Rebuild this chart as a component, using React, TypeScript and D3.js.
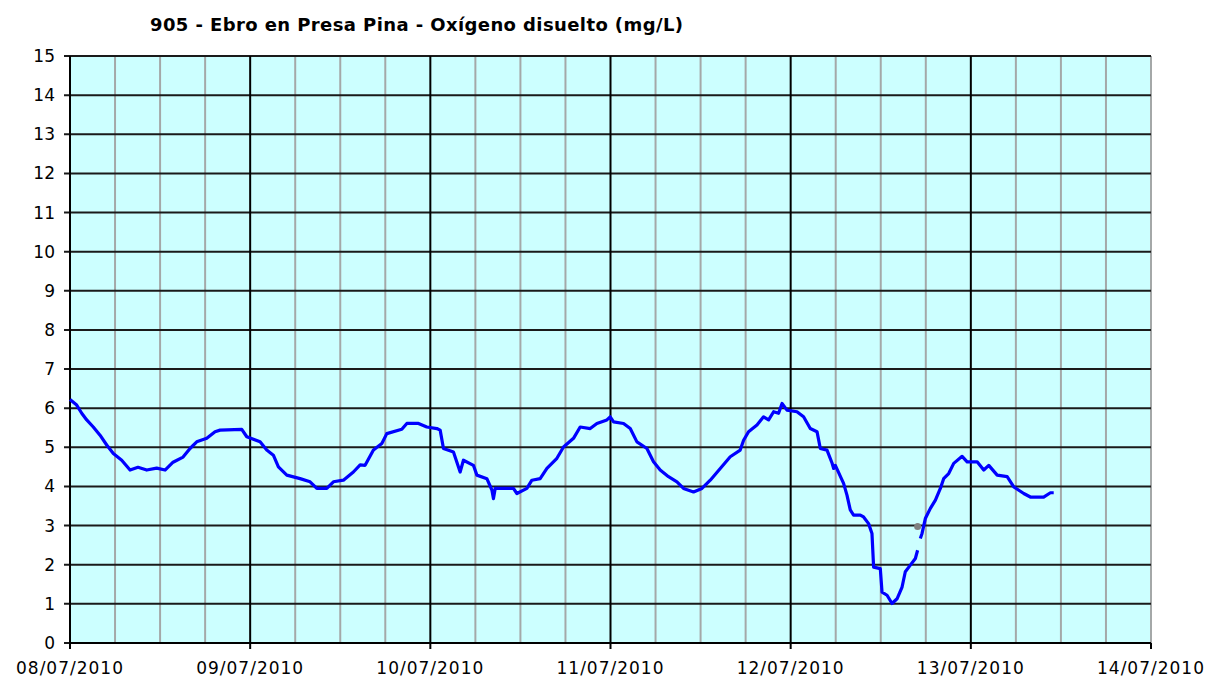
import React from "react";
import * as d3 from "d3";

const title = "905 - Ebro en Presa Pina - Oxígeno disuelto (mg/L)";
const dayLabels = ["08/07/2010", "09/07/2010", "10/07/2010", "11/07/2010", "12/07/2010", "13/07/2010", "14/07/2010"];
const yTicks = d3.range(0, 16);

// hours since 08/07/2010 00:00
const hours1 = [0.0, 0.89, 1.56, 2.23, 3.1, 4.0, 4.89, 5.77, 6.89, 8.0, 9.06, 10.22, 11.55, 12.66, 13.73, 15.06, 15.99, 16.88, 18.22, 19.32, 19.99, 22.88, 23.55, 25.32, 26.21, 27.09, 27.76, 28.88, 30.65, 31.98, 32.88, 34.21, 35.09, 36.42, 37.75, 38.65, 39.31, 40.42, 41.54, 42.2, 44.2, 44.87, 46.42, 47.53, 48.87, 49.31, 49.75, 51.08, 51.75, 51.97, 52.41, 53.74, 54.2, 55.53, 56.2, 56.41, 56.64, 59.07, 59.53, 60.86, 61.53, 62.63, 63.53, 64.86, 65.74, 67.07, 67.96, 69.3, 70.19, 71.52, 71.96, 72.41, 73.74, 74.63, 75.52, 76.85, 77.73, 78.62, 79.73, 80.85, 81.73, 83.06, 84.18, 85.29, 86.62, 87.95, 89.28, 89.73, 90.39, 91.51, 92.39, 93.06, 93.73, 94.39, 94.85, 95.51, 96.84, 97.72, 98.61, 99.51, 99.95, 100.84, 101.51, 101.73, 101.95, 103.05, 103.5, 103.94, 104.38, 105.27, 105.71, 106.38, 106.83, 107.05, 107.94, 108.17, 108.84, 109.5, 110.17, 110.84, 111.27, 111.94, 112.61, 112.91];
const oxygen1 = [6.22, 6.08, 5.87, 5.7, 5.52, 5.31, 5.06, 4.84, 4.67, 4.42, 4.49, 4.42, 4.47, 4.42, 4.62, 4.75, 4.97, 5.14, 5.23, 5.4, 5.44, 5.46, 5.27, 5.14, 4.93, 4.8, 4.5, 4.29, 4.2, 4.12, 3.95, 3.95, 4.12, 4.16, 4.37, 4.55, 4.54, 4.93, 5.1, 5.35, 5.46, 5.61, 5.61, 5.52, 5.48, 5.44, 4.97, 4.88, 4.5, 4.37, 4.67, 4.54, 4.29, 4.2, 3.91, 3.69, 3.95, 3.95, 3.82, 3.95, 4.16, 4.2, 4.46, 4.72, 5.01, 5.23, 5.52, 5.48, 5.61, 5.7, 5.78, 5.65, 5.61, 5.48, 5.14, 4.97, 4.63, 4.42, 4.25, 4.12, 3.95, 3.86, 3.95, 4.16, 4.46, 4.76, 4.93, 5.18, 5.4, 5.57, 5.78, 5.7, 5.91, 5.87, 6.12, 5.95, 5.91, 5.78, 5.48, 5.4, 4.97, 4.93, 4.6, 4.46, 4.54, 4.08, 3.78, 3.4, 3.27, 3.27, 3.22, 3.05, 2.8, 1.94, 1.9, 1.3, 1.22, 1.01, 1.13, 1.43, 1.82, 1.99, 2.16, 2.37];
const hours2 = [113.27, 113.5, 113.94, 114.61, 115.28, 115.94, 116.38, 117.05, 117.72, 118.84, 119.51, 120.84, 121.72, 122.39, 123.51, 124.84, 125.72, 127.05, 127.93, 129.7, 130.6, 131.04];
const oxygen2 = [2.67, 2.8, 3.18, 3.44, 3.65, 3.95, 4.2, 4.33, 4.59, 4.77, 4.63, 4.63, 4.42, 4.54, 4.29, 4.25, 3.99, 3.82, 3.73, 3.73, 3.84, 3.84];
const markerHours = [112.91];
const markerValues = [2.98];

const W = 1209;
const H = 677;
const left = 70, right = 1151, top = 56, bottom = 643;
const start = new Date(2010, 6, 8);
const end = new Date(2010, 6, 14);
const toDate = (h: number) => new Date(start.getTime() + h * 3600 * 1000);

export default function App() {
  const x = d3.scaleTime().domain([start, end]).range([left, right]);
  const y = d3.scaleLinear().domain([0, 15]).range([bottom, top]);
  const days = d3.timeDay.range(start, d3.timeDay.offset(end, 1));
  const quarters = d3.timeHour.every(6)!.range(start, end).filter((d) => d.getHours() !== 0);

  const line = d3
    .line<[number, number]>()
    .x((d) => x(toDate(d[0])))
    .y((d) => y(d[1]));
  const seg1 = hours1.map((h, i) => [h, oxygen1[i]] as [number, number]);
  const seg2 = hours2.map((h, i) => [h, oxygen2[i]] as [number, number]);

  const font = "'DejaVu Sans', Verdana, sans-serif";

  return (
    <svg width={W} height={H} style={{ position: "absolute", left: 0, top: 0 }} fontFamily={font}>
      <rect x={0} y={0} width={W} height={H} fill="#ffffff" />
      <text x={150} y={31} fontSize={18} fontWeight="bold" textLength={533} lengthAdjust="spacing" fill="#000">{title}</text>
      <rect x={left} y={top} width={right - left} height={bottom - top} fill="#ccffff" />
      {quarters.map((d, i) => (
        <line key={"q" + i} x1={x(d)} x2={x(d)} y1={top} y2={bottom} stroke="#a4a8a8" strokeWidth={2} />
      ))}
      <line x1={right} x2={right} y1={top} y2={bottom} stroke="#a4a8a8" strokeWidth={2} />
      {yTicks.map((v) => (
        <g key={"y" + v}>
          <line x1={left - 6} x2={right} y1={y(v)} y2={y(v)} stroke="#1a1a1a" strokeWidth={2} />
          <text x={55} y={y(v) + 6} fontSize={17} textAnchor="end" fill="#000">{v}</text>
        </g>
      ))}
      {days.map((d, i) => (
        <g key={"d" + i}>
          {i < days.length - 1 && <line x1={x(d)} x2={x(d)} y1={top} y2={bottom} stroke="#000" strokeWidth={2} />}
          <line x1={x(d)} x2={x(d)} y1={bottom} y2={bottom + 6} stroke="#000" strokeWidth={2} />
          <text x={x(d)} y={674} fontSize={17} letterSpacing={1} textAnchor="middle" fill="#000">{dayLabels[i]}</text>
        </g>
      ))}
      <line x1={left} x2={left} y1={top} y2={bottom + 6} stroke="#000" strokeWidth={2} />
      <line x1={left} x2={right} y1={bottom} y2={bottom} stroke="#000" strokeWidth={2} />
      <path d={line(seg1) || ""} fill="none" stroke="#0000ff" strokeWidth={3.2} strokeLinejoin="round" />
      <path d={line(seg2) || ""} fill="none" stroke="#0000ff" strokeWidth={3.2} strokeLinejoin="round" />
      {markerHours.map((h, i) => (
        <circle key={"m" + i} cx={x(toDate(h))} cy={y(markerValues[i])} r={3.5} fill="#808080" />
      ))}
    </svg>
  );
}
